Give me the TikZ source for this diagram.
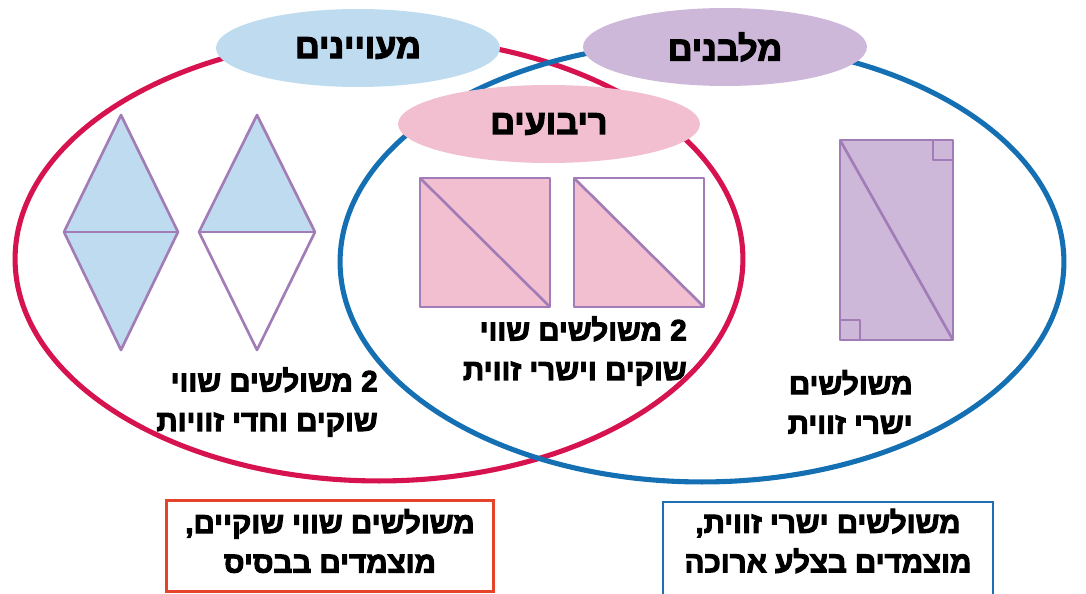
\documentclass[tikz,border=0pt]{standalone}
\usepackage{fontspec}
\setmainfont{Liberation Sans}
\newfontfamily\hebfont[Script=Hebrew, FakeBold=3.5]{Liberation Sans Bold}
\usetikzlibrary{shapes.geometric, positioning}
\TeXXeTstate=1
\newcommand{\heb}[1]{\beginR #1\endR}

\definecolor{ringred}{HTML}{D6124F}
\definecolor{ringblue}{HTML}{1570B3}
\definecolor{rhombfill}{HTML}{BFDBEF}
\definecolor{rectfill}{HTML}{CDB8DA}
\definecolor{squarefill}{HTML}{F1BFD0}
\definecolor{shapeline}{HTML}{A27CB6}
\definecolor{notered}{HTML}{E5432A}
\definecolor{noteblue}{HTML}{1F6FB5}

\begin{document}
\begin{tikzpicture}[
    x=0.02cm, y=-0.02cm,
    ring/.style={line width=2.9pt},
    setlabel/.style={ellipse, minimum width=5.68cm, minimum height=1.56cm, inner sep=0pt, font=\hebfont\fontsize{19.5}{21}\selectfont},
    caption/.style={align=right, inner sep=0pt, font=\hebfont\fontsize{16.8}{22.5}\selectfont},
    notetext/.style={align=center, inner sep=0pt, font=\hebfont\fontsize{16.8}{22.5}\selectfont},
    frame/.style={draw, line width=1.4pt, minimum width=6.54cm, minimum height=1.82cm, inner sep=0pt},
    figure/.style={draw=shapeline, line width=1.5pt, line join=round}
]
\useasboundingbox (0,0) rectangle (1086,594);

% -------------------------------------------------------------------------
% Venn rings
% -------------------------------------------------------------------------
\draw[ring, ringred] (379,259) ellipse [x radius=7.28cm, y radius=4.44cm];
\draw[ring, ringblue] (702,262) ellipse [x radius=7.24cm, y radius=4.4cm];

% Set labels (drawn over the rings)
\node[setlabel, fill=rhombfill] (RhombLabel) at (358,48) {\heb{מעויינים}};
\node[setlabel, fill=rectfill] (RectLabel) at (725,47) {\heb{מלבנים}};
\node[setlabel, fill=squarefill, minimum width=6.04cm] (SquareLabel) at (549,124) {\heb{ריבועים}};

% -------------------------------------------------------------------------
% Rhombi (x = 121 and x = 257)
% -------------------------------------------------------------------------
\fill[rhombfill] (121,115) -- (178,232) -- (121,350) -- (64,232) -- cycle;
\draw[figure] (121,115) -- (178,232) -- (121,350) -- (64,232) -- cycle;
\draw[figure] (64,232) -- (178,232);

\fill[rhombfill] (257,115) -- (315,232) -- (199,232) -- cycle;
\draw[figure] (257,115) -- (315,232) -- (257,350) -- (199,232) -- cycle;
\draw[figure] (199,232) -- (315,232);

% -------------------------------------------------------------------------
% Squares (intersection)
% -------------------------------------------------------------------------
\fill[squarefill] (420,178) rectangle (550,307);
\draw[figure] (420,178) rectangle (550,307);
\draw[figure] (420,178) -- (550,307);

\fill[squarefill] (574,178) -- (704,307) -- (574,307) -- cycle;
\draw[figure] (574,178) rectangle (704,307);
\draw[figure] (574,178) -- (704,307);

% -------------------------------------------------------------------------
% Rectangle with right-angle marks
% -------------------------------------------------------------------------
\fill[rectfill] (840,140) rectangle (953,340);
\draw[figure] (840,140) rectangle (953,340);
\draw[figure] (840,140) -- (953,340);
\draw[figure] (933,140) -- (933,160) -- (953,160);
\draw[figure] (840,320) -- (860,320) -- (860,340);

% -------------------------------------------------------------------------
% Captions
% -------------------------------------------------------------------------
\node[caption, anchor=east] (RhombText) at (378,402) {\heb{2 משולשים שווי}\\ \heb{שוקים וחדי זוויות}};
\node[caption, anchor=east] (SquareText) at (687,351) {\heb{2 משולשים שווי}\\ \heb{שוקים וישרי זווית}};
\node[caption, anchor=east] (RectText) at (913,402) {\heb{משולשים}\\ \heb{ישרי זווית}};

% Notes under the diagram
\node[frame, draw=notered] (LeftFrame) at (330,546) {};
\node[notetext] (LeftNote) at (330,541) {\heb{משולשים שווי שוקיים,}\\ \heb{מוצמדים בבסיס}};
\node[frame, draw=noteblue, minimum width=6.6cm, minimum height=2.2cm, anchor=north] (RightFrame) at (828,501) {};
\node[notetext] (RightNote) at (828,541) {\heb{משולשים ישרי זווית,}\\ \heb{מוצמדים בצלע ארוכה}};

\end{tikzpicture}
\end{document}
